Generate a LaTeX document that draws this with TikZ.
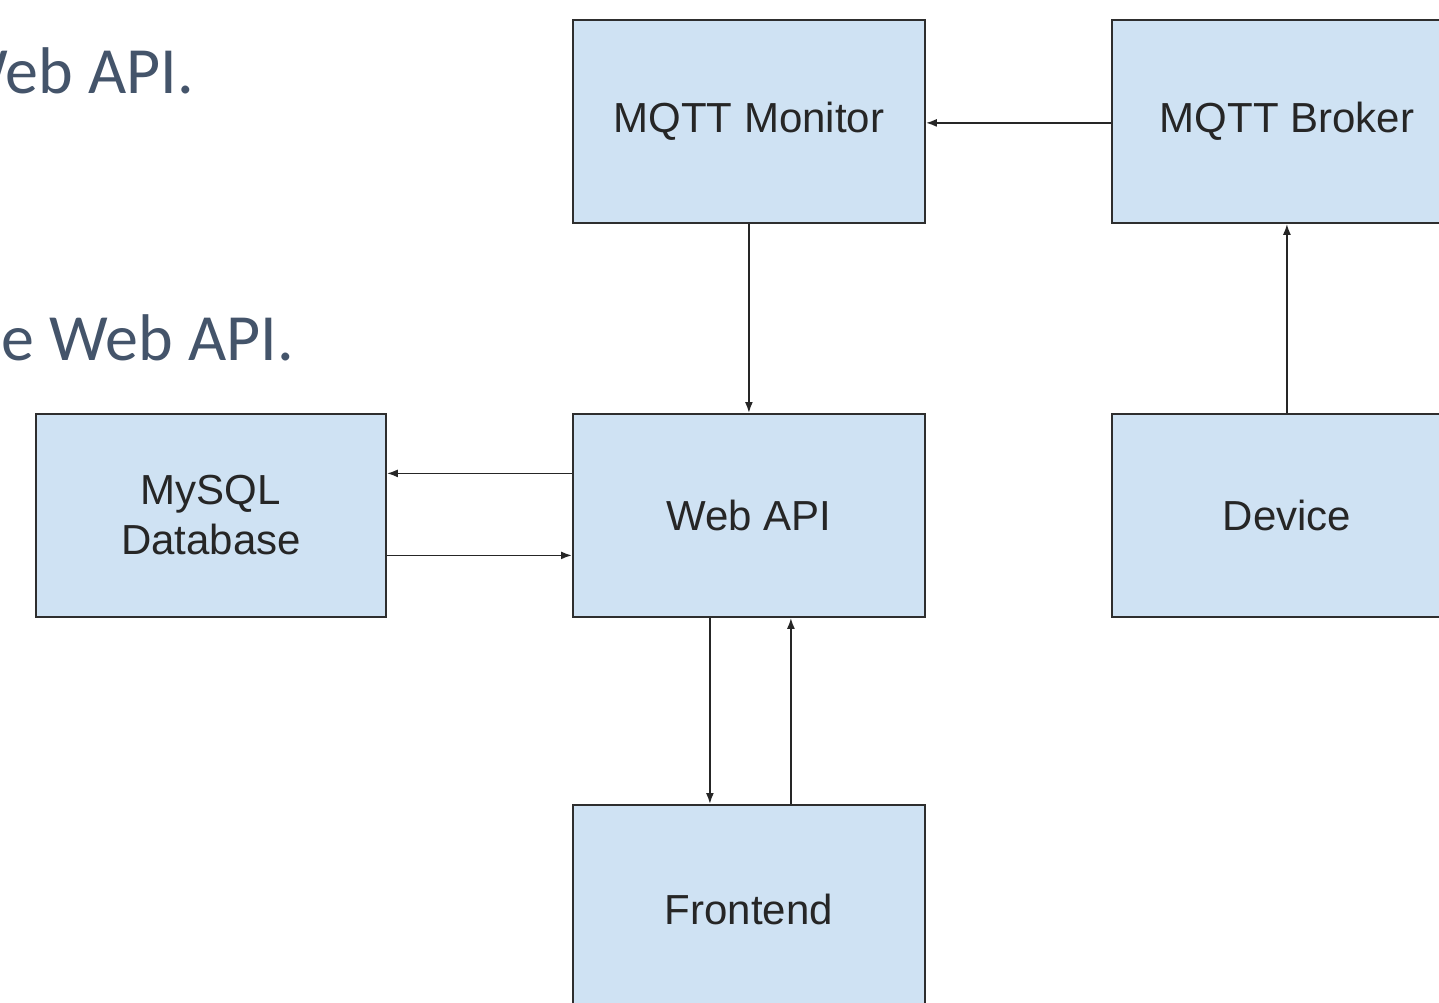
\documentclass[tikz,border=0pt]{standalone}
\usepackage{fontspec}
\setmainfont{Liberation Sans}
\newfontfamily\slidefont{Carlito}
\usetikzlibrary{arrows.meta}
\definecolor{boxfill}{HTML}{CFE2F3}
\definecolor{boxline}{HTML}{2E2E2E}
\definecolor{slidetext}{HTML}{44546A}
\tikzset{
  box/.style={draw=boxline, fill=boxfill, line width=1.8pt, minimum width=352pt, minimum height=203pt, anchor=north west, inner sep=0pt, font=\fontsize{42}{50}\selectfont, text=black!85, align=center},
  arr/.style={draw=black!85, line width=1.8pt, -{Latex[length=11pt,width=8pt]}},
  slide/.style={font=\slidefont\fontsize{66}{70}\selectfont, text=slidetext, anchor=base east, inner sep=0pt}
}
\begin{document}
\begin{tikzpicture}[x=1pt,y=-1pt]
\useasboundingbox (0,0) rectangle (1439,1002);
\clip (0,0) rectangle (1439,1002);
\fill[white] (0,0) rectangle (1439,1002);
\node[slide] (t1) at (194,93) {Web API.};
\node[slide] (t2) at (294,360) {e Web API.};
\node[box] (mon) at (572,19) {MQTT Monitor};
\node[box, minimum width=350pt] (brk) at (1111,19) {MQTT Broker};
\node[box, minimum width=350pt] (db) at (35,413) {MySQL\\Database};
\node[box] (api) at (572,413) {Web API};
\node[box, minimum width=350pt] (dev) at (1111,413) {Device};
\node[box, minimum height=210pt] (fe) at (572,804) {Frontend};
\draw[arr] ([yshift=-1.5pt]brk.west) -- ([yshift=-1.5pt]mon.east);
\draw[arr] (mon.south) -- (api.north);
\draw[arr] (dev.north) -- (brk.south);
\draw[arr] ([yshift=42pt]api.west) -- ([yshift=42pt]db.east);
\draw[arr] ([yshift=-40pt]db.east) -- ([yshift=-40pt]api.west);
\draw[arr] ([xshift=-39pt]api.south) -- ([xshift=-39pt]api.south |- fe.north);
\draw[arr] ([xshift=42pt]api.south |- fe.north) -- ([xshift=42pt]api.south);
\end{tikzpicture}
\end{document}
